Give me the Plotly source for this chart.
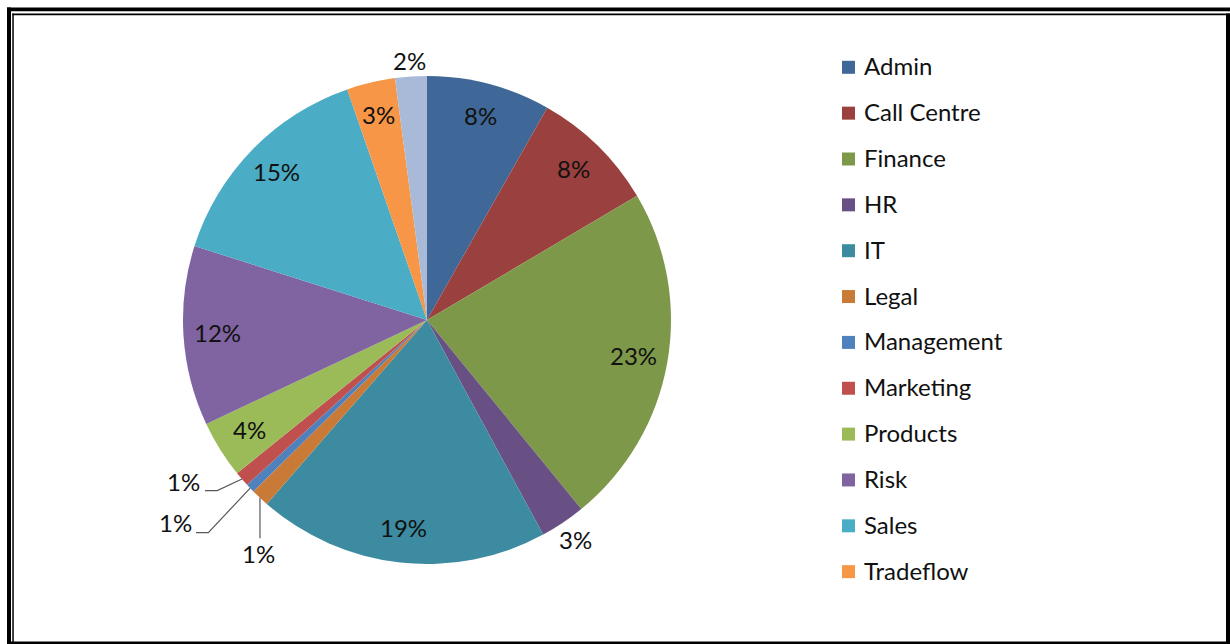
import math
import plotly.graph_objects as go

# ---- data ----
departments = ["Admin", "Call Centre", "Finance", "HR", "IT", "Legal", "Management",
               "Marketing", "Products", "Risk", "Sales", "Tradeflow", "(blank)"]
shares = [8.2, 8.3, 22.6, 3.0, 19.3, 1.2, 0.6, 1.0, 3.8, 11.9, 14.8, 3.2, 2.1]
colors = ["#3F6797", "#9A403E", "#7D9848", "#685084", "#3C8BA0", "#C97A37",
          "#4F81BD", "#C0504D", "#9BBB59", "#8064A2", "#4BACC6", "#F79646", "#A9BAD8"]
legend_names = departments[:12]

# ---- geometry (pixels) ----
W, H = 1230, 644
CX, CY, R = 427, 320, 244
FONT = "Lato"
FS = 24
TXT = "#111111"
TEXT_DY = -1.5  # vertical nudge of text

fig = go.Figure()
fig.add_trace(go.Pie(
    labels=departments, values=shares, sort=False, direction="clockwise", rotation=0,
    marker=dict(colors=colors, line=dict(width=0)),
    textinfo="none", hoverinfo="label+percent", showlegend=False,
    domain=dict(x=[(CX - R) / W, (CX + R) / W], y=[1 - (CY + R) / H, 1 - (CY - R) / H]),
))

total = sum(shares)
annotations = []
shapes = []

def px(x, y):
    return x / W, 1 - y / H

# outside-label style settings (pixel offsets from slice rim point)
outside = {
    "HR": dict(radial=1.09),
    "(blank)": dict(radial=1.06),
    "Legal": dict(path=[(0, 40.4)], label=(-1, 57), anchor="center"),
    "Management": dict(path=[(-41.9, 44.5), (-54.2, 44.5)], label=(-56, 36.3), anchor="right"),
    "Marketing": dict(path=[(-24.7, 11.6), (-37, 11.6)], label=(-40, 4.4), anchor="right"),
}

cum = 0.0
for name, v in zip(departments, shares):
    mid = (cum + v / 2) / total * 2 * math.pi
    cum += v
    pct = f"{round(v / total * 100)}%"
    s, c = math.sin(mid), math.cos(mid)
    cfg = outside.get(name)
    if cfg is None or "radial" in cfg:
        k = 0.86 if cfg is None else cfg["radial"]
        x, y = CX + k * R * s, CY - k * R * c
        X, Y = px(x, y + TEXT_DY)
        annotations.append(dict(x=X, y=Y, xref="paper", yref="paper", text=pct, showarrow=False,
                                font=dict(family=FONT, size=FS, color=TXT), xanchor="center", yanchor="middle"))
    else:
        ax, ay = CX + R * s, CY - R * c
        pts = [(ax, ay)] + [(ax + dx, ay + dy) for dx, dy in cfg["path"]]
        pathstr = "M " + " L ".join(f"{p[0]/W:.5f},{1-p[1]/H:.5f}" for p in pts)
        shapes.append(dict(type="path", path=pathstr, xref="paper", yref="paper",
                           line=dict(color="#595959", width=1.2)))
        lx, ly = ax + cfg["label"][0], ay + cfg["label"][1]
        X, Y = px(lx, ly + TEXT_DY)
        annotations.append(dict(x=X, y=Y, xref="paper", yref="paper", text=pct, showarrow=False,
                                font=dict(family=FONT, size=FS, color=TXT),
                                xanchor=cfg["anchor"], yanchor="middle"))

# ---- manual legend ----
LEG_X0, LEG_Y0, LEG_DY, SQ = 842, 67.3, 45.85, 13
for i, name in enumerate(legend_names):
    yc = LEG_Y0 + i * LEG_DY
    shapes.append(dict(type="rect", xref="paper", yref="paper",
                       x0=LEG_X0 / W, x1=(LEG_X0 + SQ) / W,
                       y0=1 - (yc + SQ / 2) / H, y1=1 - (yc - SQ / 2) / H,
                       fillcolor=colors[i], line=dict(width=0)))
    X, Y = px(862, yc + TEXT_DY)
    annotations.append(dict(x=X, y=Y, xref="paper", yref="paper", text=name, showarrow=False,
                            font=dict(family=FONT, size=FS, color=TXT), xanchor="left", yanchor="middle"))

# ---- frame ----
def rect_line(x0, y0, x1, y1):
    shapes.append(dict(type="rect", xref="paper", yref="paper", x0=x0 / W, x1=x1 / W,
                       y0=1 - y1 / H, y1=1 - y0 / H, fillcolor="black", line=dict(width=0)))

rect_line(7, 7.5, W, 11.3)        # top thick
rect_line(7, 7.5, 11, H)          # left thick
rect_line(12.3, 13.5, W, 15.2)    # top thin
rect_line(12.3, 13.5, 13.8, H)    # left thin
rect_line(1226, 13.5, W, H)       # right thick
rect_line(7, 641.5, W, H)         # bottom thick

fig.update_layout(width=W, height=H, autosize=False, margin=dict(l=0, r=0, t=0, b=0),
                  paper_bgcolor="white", plot_bgcolor="white",
                  annotations=annotations, shapes=shapes, showlegend=False)
fig.write_html("out.html", config={"displayModeBar": False},
               post_script="document.body.style.margin='0px';document.body.style.overflow='hidden';")
